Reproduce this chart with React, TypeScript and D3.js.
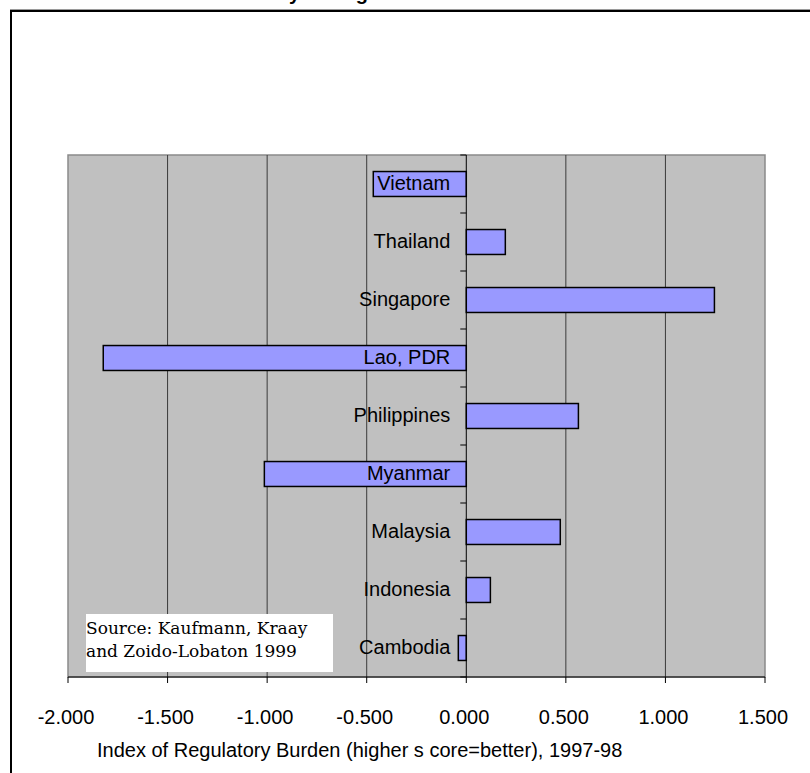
import React from 'react';
import * as d3 from 'd3';

// Regulatory burden index by country, listed top to bottom
const countries = ['Vietnam', 'Thailand', 'Singapore', 'Lao, PDR', 'Philippines', 'Myanmar', 'Malaysia', 'Indonesia', 'Cambodia'];
const burdenIndex = [-0.467, 0.196, 1.246, -1.823, 0.563, -1.014, 0.472, 0.121, -0.04];

const xTicks = [-2, -1.5, -1, -0.5, 0, 0.5, 1, 1.5];
const xGridlines = [-1.5, -1, -0.5, 0.5, 1];
const axisTitle = 'Index of Regulatory Burden (higher s core=better), 1997-98';
const sourceLines = ['Source: Kaufmann, Kraay', 'and Zoido-Lobaton 1999'];
const chartTitle = 'Efficiency of Regulation';

const W = 810;
const H = 773;
const plot = { left: 68, right: 765, top: 155, bottom: 677 };
const sans = '"Liberation Sans", Arial, sans-serif';

export default function App() {
  const x = d3.scaleLinear().domain([-2, 1.5]).range([plot.left, plot.right]);
  const y = d3
    .scaleBand<string>()
    .domain(countries)
    .range([plot.top, plot.bottom])
    .paddingInner(0.57)
    .paddingOuter(0.285);
  const step = y.step();
  const slotTop = (i: number) => plot.top + i * step;
  const x0 = x(0);
  // plain hyphen for negatives, three decimals
  const fmt = (v: number) => d3.format('.3f')(v).replace('\u2212', '-');

  return (
    <svg
      width={W}
      height={H}
      style={{ position: 'absolute', left: 0, top: 0, background: '#fff' }}
    >
      {/* title, sitting above the frame */}
      <text x={205.6} y={0} fontFamily={sans} fontWeight="bold" fontSize={20} fill="#000">
        {chartTitle}
      </text>

      {/* outer chart frame (left and top edges fall inside the page) */}
      <line x1={10} x2={W} y1={9.5} y2={9.5} stroke="#9a9a9a" strokeWidth={1} />
      <line x1={10} x2={W} y1={11} y2={11} stroke="#000" strokeWidth={2} />
      <line x1={11} x2={11} y1={10} y2={H} stroke="#000" strokeWidth={2} />

      {/* plot area */}
      <rect
        x={plot.left}
        y={plot.top}
        width={plot.right - plot.left}
        height={plot.bottom - plot.top}
        fill="#C0C0C0"
        stroke="#8a8a8a"
        strokeWidth={1.5}
      />

      {/* vertical gridlines */}
      {xGridlines.map((v) => (
        <line key={v} x1={x(v)} x2={x(v)} y1={plot.top} y2={plot.bottom} stroke="#3a3a3a" strokeWidth={1} />
      ))}

      {/* bars */}
      {burdenIndex.map((v, i) => {
        const c = countries[i];
        const xa = x(Math.min(0, v));
        const xb = x(Math.max(0, v));
        return (
          <rect
            key={c}
            x={xa}
            y={y(c)!}
            width={xb - xa}
            height={y.bandwidth()}
            fill="#9999FF"
            stroke="#000"
            strokeWidth={1.5}
          />
        );
      })}

      {/* category axis at zero */}
      <line x1={x0} x2={x0} y1={plot.top} y2={plot.bottom} stroke="#000" strokeWidth={1} />
      {d3.range(countries.length + 1).map((i) => (
        <line key={i} x1={x0 - 6} x2={x0} y1={slotTop(i)} y2={slotTop(i)} stroke="#000" strokeWidth={1} />
      ))}
      {countries.map((c) => (
        <text
          key={c}
          x={x0 - 16}
          y={y(c)! + y.bandwidth() / 2 + 6}
          textAnchor="end"
          fontFamily={sans}
          fontSize={20}
          fill="#000"
        >
          {c}
        </text>
      ))}

      {/* value axis */}
      <line x1={plot.left} x2={plot.right} y1={plot.bottom} y2={plot.bottom} stroke="#000" strokeWidth={1} />
      {xTicks.map((v) => (
        <g key={v}>
          <line x1={x(v)} x2={x(v)} y1={plot.bottom} y2={plot.bottom + 6} stroke="#000" strokeWidth={1} />
          <text x={x(v) - 2} y={724} textAnchor="middle" fontFamily={sans} fontSize={20} fill="#000">
            {fmt(v)}
          </text>
        </g>
      ))}
      <text x={97} y={757} fontFamily={sans} fontSize={20} fill="#000">
        {axisTitle}
      </text>

      {/* source note */}
      <rect x={86} y={614} width={247} height={58} fill="#fff" />
      {sourceLines.map((s, i) => (
        <text
          key={s}
          x={86}
          y={634 + i * 23}
          fontFamily='"DejaVu Serif", serif'
          fontSize={17}
          fill="#000"
        >
          {s}
        </text>
      ))}
    </svg>
  );
}
